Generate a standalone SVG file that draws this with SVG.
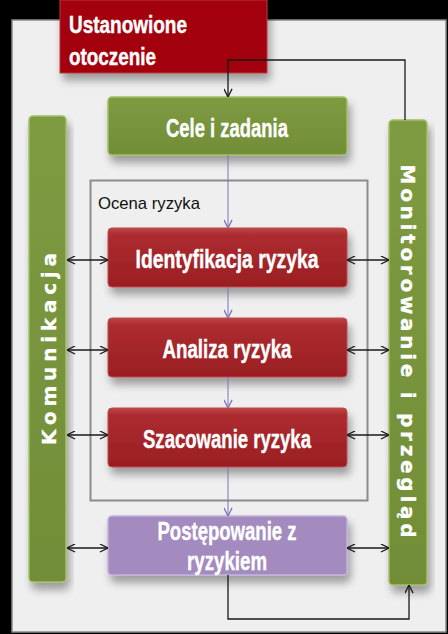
<svg xmlns="http://www.w3.org/2000/svg" width="448" height="634" viewBox="0 0 448 634">
  <defs>
    <linearGradient id="gRed" x1="0" y1="0" x2="0" y2="1">
      <stop offset="0" stop-color="#bf4446"/>
      <stop offset="0.12" stop-color="#ac2c30"/>
      <stop offset="1" stop-color="#9a1e22"/>
    </linearGradient>
    <linearGradient id="gGreen" x1="0" y1="0" x2="0" y2="1">
      <stop offset="0" stop-color="#7e9b42"/>
      <stop offset="1" stop-color="#718d37"/>
    </linearGradient>
    <filter id="shadow" x="-20%" y="-20%" width="140%" height="160%">
      <feGaussianBlur in="SourceAlpha" stdDeviation="4"/>
      <feOffset dx="3" dy="7" result="b"/>
      <feComponentTransfer><feFuncA type="linear" slope="0.35"/></feComponentTransfer>
      <feMerge><feMergeNode/><feMergeNode in="SourceGraphic"/></feMerge>
    </filter>
    <marker id="arr" viewBox="0 0 10 10" refX="10" refY="5" markerWidth="9" markerHeight="9" markerUnits="userSpaceOnUse" orient="auto-start-reverse">
      <path d="M1,0.5 L10,5 L1,9.5" fill="none" stroke="#1a1a1a" stroke-width="1.4"/>
    </marker>
    <marker id="arrP" viewBox="0 0 10 10" refX="10" refY="5" markerWidth="9" markerHeight="9" markerUnits="userSpaceOnUse" orient="auto">
      <path d="M1,0.5 L10,5 L1,9.5" fill="none" stroke="#7b74b8" stroke-width="1.4"/>
    </marker>
  </defs>
  <style>
    .title { font-family: "Liberation Sans", Arial, sans-serif; font-weight: bold; fill: #ffffff; stroke: #ffffff; stroke-width: 0.4px; }
    .side { font-family: "DejaVu Sans", Verdana, sans-serif; font-weight: bold; fill: #ffffff; stroke: #ffffff; stroke-width: 0.3px; font-size: 20px; }
    .red { fill: url(#gRed); stroke: #c04848; stroke-width: 1; }
    .green { fill: url(#gGreen); stroke: #a3c064; stroke-width: 1.5; }
    .purple { fill: #a38bbf; stroke: #c4b2dc; stroke-width: 1.5; }
    .conn { fill: none; stroke: #1a1a1a; stroke-width: 1.3; }
    .pconn { fill: none; stroke: #7b74b8; stroke-width: 1; }
  </style>
  <rect x="0" y="0" width="448" height="634" fill="#000000"/>
  <rect id="panel" x="12" y="20" width="434" height="612" fill="#efefef" stroke="#8a8a8a" stroke-width="1.5"/>

  <g id="ocena">
    <rect x="90.5" y="180.5" width="277" height="320" fill="none" stroke="#8c8c8c" stroke-width="2"/>
    <text x="98" y="209" font-family="Liberation Sans, Arial, sans-serif" font-size="17" fill="#111" textLength="102" lengthAdjust="spacingAndGlyphs">Ocena ryzyka</text>
  </g>

  <g id="ustanowione">
    <rect x="60" y="0" width="207" height="73" fill="#a30008" stroke="#b83a3a" stroke-width="1" filter="url(#shadow)"/>
    <text class="title" x="69" y="33" font-size="23" textLength="118" lengthAdjust="spacingAndGlyphs">Ustanowione</text>
    <text class="title" x="69" y="65" font-size="23" textLength="87" lengthAdjust="spacingAndGlyphs">otoczenie</text>
  </g>

  <g id="cele">
    <rect class="green" x="108" y="97" width="239" height="58" rx="4" filter="url(#shadow)"/>
    <text class="title" x="227" y="137" font-size="26" text-anchor="middle" textLength="122" lengthAdjust="spacingAndGlyphs">Cele i zadania</text>
  </g>

  <g id="komunikacja">
    <rect class="green" x="29" y="116" width="37" height="466" rx="4" filter="url(#shadow)"/>
    <text class="side" transform="translate(56,349) rotate(-90)" text-anchor="middle" textLength="192" lengthAdjust="spacing">Komunikacja</text>
  </g>

  <g id="monitorowanie">
    <rect class="green" x="389" y="120" width="38" height="465" rx="4" filter="url(#shadow)"/>
    <text class="side" transform="translate(401,351) rotate(90)" text-anchor="middle" textLength="373" lengthAdjust="spacing">Monitorowanie i przegląd</text>
  </g>

  <g id="identyfikacja">
    <rect class="red" x="108" y="228" width="239" height="59" rx="4" filter="url(#shadow)"/>
    <text class="title" x="227" y="268" font-size="26" text-anchor="middle" textLength="183" lengthAdjust="spacingAndGlyphs">Identyfikacja ryzyka</text>
  </g>

  <g id="analiza">
    <rect class="red" x="108" y="318" width="239" height="59" rx="4" filter="url(#shadow)"/>
    <text class="title" x="227" y="358" font-size="26" text-anchor="middle" textLength="129" lengthAdjust="spacingAndGlyphs">Analiza ryzyka</text>
  </g>

  <g id="szacowanie">
    <rect class="red" x="108" y="408" width="239" height="59" rx="4" filter="url(#shadow)"/>
    <text class="title" x="227" y="448" font-size="26" text-anchor="middle" textLength="168" lengthAdjust="spacingAndGlyphs">Szacowanie ryzyka</text>
  </g>

  <g id="postepowanie">
    <rect class="purple" x="108" y="516" width="239" height="59" rx="4" filter="url(#shadow)"/>
    <text class="title" x="227" y="540" font-size="26" text-anchor="middle" textLength="139" lengthAdjust="spacingAndGlyphs">Postępowanie z</text>
    <text class="title" x="227" y="570" font-size="26" text-anchor="middle" textLength="80" lengthAdjust="spacingAndGlyphs">ryzykiem</text>
  </g>

  <g id="connectors">
    <path class="conn" d="M405,120 V60 H228 V97" marker-end="url(#arr)"/>
    <path class="conn" d="M228,575 V619 H409 V585" marker-end="url(#arr)"/>
    <path class="pconn" d="M228,155 V228" marker-end="url(#arrP)"/>
    <path class="pconn" d="M228,287 V318" marker-end="url(#arrP)"/>
    <path class="pconn" d="M228,377 V408" marker-end="url(#arrP)"/>
    <path class="pconn" d="M228,467 V516" marker-end="url(#arrP)"/>
    <path class="conn" d="M67,260 H108" marker-start="url(#arr)" marker-end="url(#arr)"/>
    <path class="conn" d="M67,350 H108" marker-start="url(#arr)" marker-end="url(#arr)"/>
    <path class="conn" d="M67,435 H108" marker-start="url(#arr)" marker-end="url(#arr)"/>
    <path class="conn" d="M67,548 H108" marker-start="url(#arr)" marker-end="url(#arr)"/>
    <path class="conn" d="M347,260 H389" marker-start="url(#arr)" marker-end="url(#arr)"/>
    <path class="conn" d="M347,350 H389" marker-start="url(#arr)" marker-end="url(#arr)"/>
    <path class="conn" d="M347,435 H389" marker-start="url(#arr)" marker-end="url(#arr)"/>
    <path class="conn" d="M347,548 H389" marker-start="url(#arr)" marker-end="url(#arr)"/>
  </g>
</svg>
